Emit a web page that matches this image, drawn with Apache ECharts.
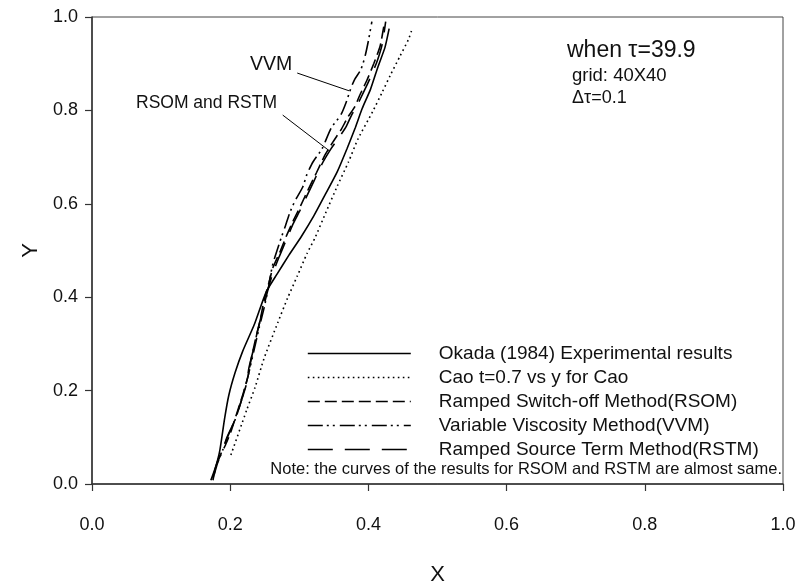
<!DOCTYPE html>
<html><head><meta charset="utf-8">
<script src="https://cdn.jsdelivr.net/npm/echarts@6/dist/echarts.min.js"></script>
<style>html,body{margin:0;padding:0;background:#fff}#c{width:797px;height:582px}</style>
</head><body><div id="c"></div>
<script>
// ---- data ----
const xTickValues = [0.0, 0.2, 0.4, 0.6, 0.8, 1.0];
const yTickValues = [0.0, 0.2, 0.4, 0.6, 0.8, 1.0];

const okadaX = [0.172,0.179,0.185,0.192,0.198,0.207,0.218,0.235,0.252,0.268,0.285,0.303,0.321,0.338,0.355,0.369,0.381,0.391,0.403,0.414,0.424,0.430];
const okadaY = [0.008,0.037,0.072,0.141,0.190,0.238,0.284,0.342,0.411,0.450,0.490,0.530,0.574,0.621,0.669,0.718,0.763,0.804,0.845,0.894,0.935,0.975];

const caoX = [0.201,0.224,0.236,0.249,0.269,0.283,0.297,0.311,0.323,0.338,0.355,0.371,0.385,0.406,0.420,0.432,0.446,0.458,0.463];
const caoY = [0.062,0.159,0.207,0.269,0.346,0.398,0.445,0.493,0.528,0.580,0.638,0.689,0.739,0.797,0.839,0.876,0.917,0.952,0.973];

const rsomX = [0.175,0.178,0.183,0.193,0.201,0.209,0.218,0.226,0.230,0.236,0.243,0.249,0.256,0.262,0.272,0.281,0.291,0.302,0.313,0.325,0.337,0.349,0.361,0.370,0.380,0.388,0.398,0.408,0.417,0.423];
const rsomY = [0.008,0.029,0.054,0.083,0.112,0.149,0.190,0.232,0.265,0.306,0.348,0.393,0.431,0.464,0.497,0.530,0.563,0.596,0.631,0.667,0.704,0.733,0.760,0.785,0.807,0.834,0.865,0.901,0.938,0.986];

const vvmX = [0.177,0.182,0.189,0.196,0.208,0.217,0.226,0.235,0.242,0.249,0.255,0.259,0.262,0.268,0.274,0.280,0.286,0.294,0.305,0.311,0.320,0.333,0.346,0.360,0.368,0.375,0.380,0.389,0.395,0.400,0.405];
const vvmY = [0.021,0.046,0.072,0.100,0.141,0.183,0.232,0.290,0.335,0.377,0.418,0.452,0.473,0.501,0.528,0.553,0.580,0.607,0.636,0.663,0.690,0.718,0.762,0.790,0.818,0.849,0.866,0.887,0.915,0.949,0.990];

const rstmX = [0.175,0.180,0.189,0.195,0.208,0.217,0.224,0.227,0.234,0.240,0.248,0.255,0.262,0.271,0.281,0.291,0.301,0.311,0.321,0.332,0.346,0.357,0.368,0.376,0.384,0.393,0.404,0.413,0.420,0.425];
const rstmY = [0.012,0.041,0.072,0.099,0.141,0.182,0.217,0.248,0.290,0.331,0.377,0.418,0.453,0.487,0.522,0.557,0.586,0.617,0.648,0.683,0.718,0.741,0.766,0.791,0.812,0.839,0.874,0.907,0.942,0.990];

// annotation pointers (data coordinates)
const vvmPointer = [[0.297, 0.880], [0.372, 0.842]];
const rsPointer = [[0.276, 0.790], [0.343, 0.714]];

const seriesNames = [
  'Okada (1984) Experimental results',
  'Cao t=0.7 vs y for Cao',
  'Ramped Switch-off Method(RSOM)',
  'Variable Viscosity Method(VVM)',
  'Ramped Source Term Method(RSTM)'
];

// ---- build ----
const FONT = "'Liberation Sans', Arial, sans-serif";
function zip(a, b) { return a.map((v, i) => [v, b[i]]); }

const chart = echarts.init(document.getElementById('c'), null, {renderer: 'canvas'});

function mkSeries(name, xs, ys, dash, extra) {
  return Object.assign({
    name: name, type: 'line', data: zip(xs, ys), symbol: 'none', smooth: 0.2,
    animation: false, silent: true,
    itemStyle: {color: '#000'},
    lineStyle: {color: '#000', width: 1.6, type: dash}
  }, extra || {});
}

const option = {
  animation: false,
  textStyle: {fontFamily: FONT},
  grid: {left: 92, right: 14, top: 17, bottom: 98, show: true, borderColor: '#444', borderWidth: 1,
         backgroundColor: 'transparent', containLabel: false, outerBoundsMode: 'none'},
  xAxis: {
    type: 'value', min: 0, max: 1, interval: 0.2,
    name: 'X', nameLocation: 'middle', nameGap: 80,
    nameTextStyle: {fontSize: 22, color: '#111', fontFamily: FONT},
    axisLine: {lineStyle: {color: '#333', width: 1.5}},
    axisTick: {show: true, inside: false, length: 7, lineStyle: {color: '#333', width: 1.2}},
    axisLabel: {fontSize: 18, color: '#111', margin: 32, fontFamily: FONT,
      formatter: v => xTickValues.find(t => Math.abs(t - v) < 1e-9).toFixed(1)},
    splitLine: {show: false}
  },
  yAxis: {
    type: 'value', min: 0, max: 1, interval: 0.2,
    name: 'Y', nameLocation: 'middle', nameGap: 48,
    nameTextStyle: {fontSize: 22, color: '#111', fontFamily: FONT},
    axisLine: {show: true, lineStyle: {color: '#333', width: 1.5}},
    axisTick: {show: true, inside: false, length: 7, lineStyle: {color: '#333', width: 1.2}},
    axisLabel: {fontSize: 18, color: '#111', margin: 14, fontFamily: FONT,
      formatter: v => yTickValues.find(t => Math.abs(t - v) < 1e-9).toFixed(1)},
    splitLine: {show: false}
  },
  legend: {
    show: true, orient: 'vertical', left: 307, top: 344, padding: 0,
    itemWidth: 103, itemHeight: 18, itemGap: 5,
    itemStyle: {opacity: 0},
    textStyle: {fontSize: 19, color: '#111', fontFamily: FONT, padding: [0, 0, 0, 23], lineHeight: 18},
    lineStyle: {width: 1.6},
    data: seriesNames
  },
  series: [
    mkSeries(seriesNames[0], okadaX, okadaY, 'solid'),
    mkSeries(seriesNames[1], caoX, caoY, [1.6, 3.4]),
    mkSeries(seriesNames[2], rsomX, rsomY, [12, 5]),
    mkSeries(seriesNames[3], vvmX, vvmY, [15, 4, 2, 4, 2, 5], {
      markLine: {
        silent: true, symbol: ['none', 'none'], animation: false,
        label: {show: false},
        lineStyle: {color: '#000', width: 1, type: 'solid'},
        data: [
          [{coord: vvmPointer[0]}, {coord: vvmPointer[1]}],
          [{coord: rsPointer[0]}, {coord: rsPointer[1]}]
        ]
      }
    }),
    mkSeries(seriesNames[4], rstmX, rstmY, [25, 12])
  ],
  graphic: [
    {type: 'text', left: 250, top: 55, style: {text: 'VVM', font: '19.5px ' + FONT, fill: '#111'}},
    {type: 'text', left: 136, top: 94, style: {text: 'RSOM and RSTM', font: '17.5px ' + FONT, fill: '#111'}},
    {type: 'text', left: 567, top: 39, style: {text: 'when \u03c4=39.9', font: '23px ' + FONT, fill: '#111'}},
    {type: 'text', left: 572, top: 66, style: {text: 'grid: 40X40', font: '18.5px ' + FONT, fill: '#111'}},
    {type: 'text', left: 572, top: 89, style: {text: '\u0394\u03c4=0.1', font: '18px ' + FONT, fill: '#111'}},
    {type: 'text', right: 15, top: 461, style: {text: 'Note: the curves of the results for RSOM and RSTM are almost same.', font: '16.5px ' + FONT, fill: '#111'}}
  ]
};
chart.setOption(option);
</script>
</body></html>
